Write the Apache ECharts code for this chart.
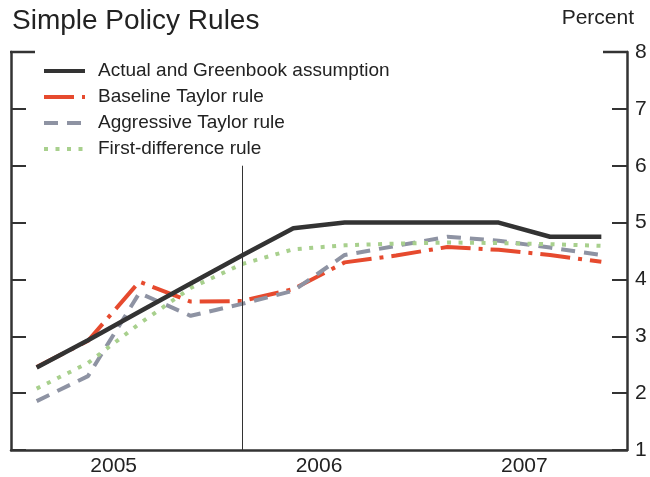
<!DOCTYPE html>
<html lang="en">
<head>
	<meta charset="UTF-8">
	<title>Simple Policy Rules</title>
	<script src="https://cdn.jsdelivr.net/npm/echarts@6/dist/echarts.min.js"></script>
	<style>
		html,body{margin:0;height:100%;background:#fff;}
	</style>
</head>
<body>
	<div id="chart" style="width:650px; height:477px;"></div>
</body>

<script>
	// quarterly, 2005Q1 - 2007Q4
	var quarters=['2005Q1','2005Q2','2005Q3','2005Q4','2006Q1','2006Q2','2006Q3','2006Q4','2007Q1','2007Q2','2007Q3','2007Q4'];
	var years=['2005','2006','2007'];
	var yTicks=[1,8,1]; // min, max, step (percent)

	var actual=[2.45,2.93,3.43,3.93,4.42,4.90,5.00,5.00,5.00,5.00,4.75,4.75];
	var baseline=[2.46,2.92,3.96,3.61,3.62,3.83,4.30,4.42,4.57,4.52,4.43,4.31];
	var aggressive=[1.86,2.30,3.76,3.36,3.57,3.80,4.43,4.59,4.75,4.68,4.56,4.43];
	var firstDiff=[2.08,2.53,3.22,3.85,4.27,4.53,4.60,4.63,4.65,4.64,4.62,4.59];
	var names=['Actual and Greenbook assumption','Baseline Taylor rule','Aggressive Taylor rule','First-difference rule'];
	var markerQuarter='2006Q1'; // vertical line
	var markerTop=6;

	var font='"Liberation Sans", Arial, sans-serif';
	var ink='#333333';

	drawChart(document.getElementById('chart'));

	function drawChart(dom){
		var axisLine={show:true,lineStyle:{color:ink,width:2.5}};
		option = {
			animation:false,
			textStyle:{fontFamily:font},
			title:[{
				text:'Simple Policy Rules',
				left:7, top:2,
				textStyle:{fontSize:28,fontWeight:'normal',color:'#222'}
			},{
				text:'Percent',
				right:11, top:3,
				textStyle:{fontSize:21,fontWeight:'normal',color:'#222'}
			}],
			legend:{
				orient:'vertical',
				left:37, top:56,
				itemWidth:41, itemHeight:14,
				itemGap:6,
				data:names,
				itemStyle:{opacity:0}, // line only, no dot
				lineStyle:{width:4},
				textStyle:{fontSize:19,color:'#222',lineHeight:20,padding:[0,0,0,8]}
			},
			grid:{left:11,right:23,top:52,bottom:25},
			xAxis:[{
				type:'category',
				data:quarters,
				boundaryGap:true,
				axisLine:axisLine,
				axisTick:{inside:true,length:10,lineStyle:{color:ink,width:2}},
				axisLabel:{show:false}
			},{
				type:'category',
				data:years,
				position:'bottom',
				boundaryGap:true,
				axisLine:{show:false},
				axisTick:{inside:true,length:20,lineStyle:{color:ink,width:2}},
				axisLabel:{fontSize:21,color:'#222',margin:6}
			}],
			yAxis:[{
				type:'value', position:'left',
				min:yTicks[0], max:yTicks[1], interval:yTicks[2],
				axisLine:axisLine,
				axisTick:{show:true,inside:true,length:15,lineStyle:{color:ink,width:2}},
				axisLabel:{show:false},
				splitLine:{show:false}
			},{
				type:'value', position:'right',
				min:yTicks[0], max:yTicks[1], interval:yTicks[2],
				axisLine:axisLine,
				axisTick:{show:true,inside:true,length:15,lineStyle:{color:ink,width:2}},
				axisLabel:{fontSize:21,color:'#222',margin:8},
				splitLine:{show:false}
			}],
			// longer caps at the top of both axes
			graphic:[
				{type:'line',shape:{x1:10,y1:52,x2:35,y2:52},style:{stroke:ink,lineWidth:2.5}},
				{type:'line',shape:{x1:603,y1:52,x2:628,y2:52},style:{stroke:ink,lineWidth:2.5}}
			],
			series:[{
				name:names[1], type:'line', data:baseline, symbol:'none',
				lineStyle:{color:'#e64a2e',width:4,type:[30,8,4,8],cap:'butt'},
				itemStyle:{color:'#e64a2e'}
			},{
				name:names[2], type:'line', data:aggressive, symbol:'none',
				lineStyle:{color:'#8e93a3',width:4,type:[14,9],cap:'butt'},
				itemStyle:{color:'#8e93a3'}
			},{
				name:names[3], type:'line', data:firstDiff, symbol:'none',
				lineStyle:{color:'#a8d08d',width:4,type:[4,7.5],cap:'butt'},
				itemStyle:{color:'#a8d08d'}
			},{
				name:names[0], type:'line', data:actual, symbol:'none',
				lineStyle:{color:ink,width:4.5},
				itemStyle:{color:ink},
				markLine:{
					silent:true,
					symbol:['none','none'],
					label:{show:false},
					lineStyle:{color:ink,width:1,type:'solid'},
					data:[[{coord:[markerQuarter,markerTop]},{coord:[markerQuarter,yTicks[0]]}]]
				}
			}]
		};
		var myChart=echarts.init(dom);
		myChart.setOption(option);
	}
</script>
</html>
